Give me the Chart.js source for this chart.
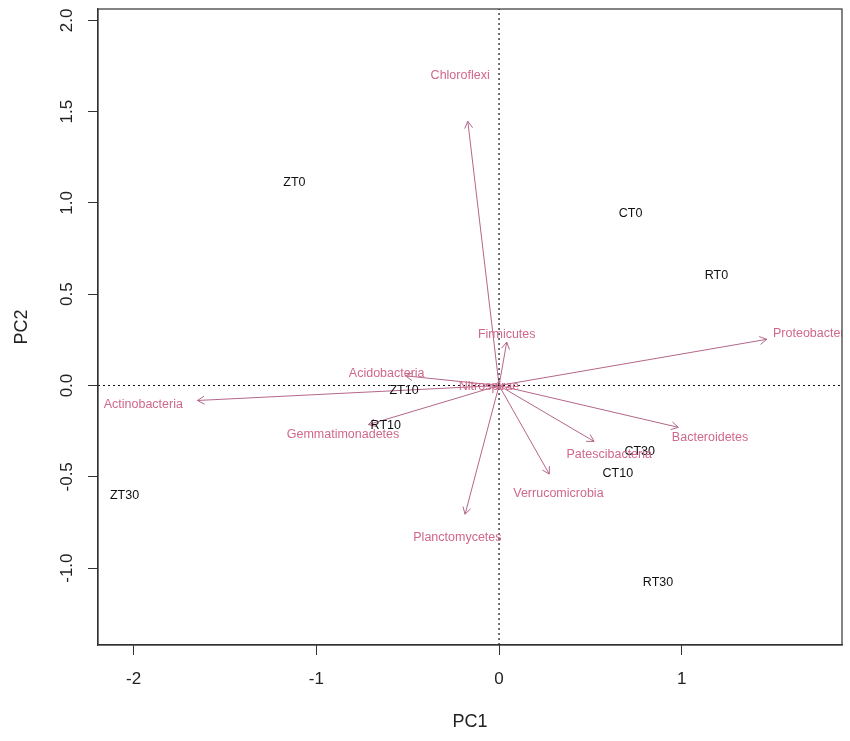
<!DOCTYPE html>
<html>
<head>
<meta charset="utf-8">
<script src="https://cdn.jsdelivr.net/npm/chart.js@4.4.0/dist/chart.umd.min.js"></script>
<style>
  body { margin: 0; background: #fff; }
  #holder { width: 850px; height: 741px; }
</style>
</head>
<body>
<div id="holder"><canvas id="chartHolder"></canvas></div>
<script>
// samples (scores)
const sampleNames = ["ZT0", "CT0", "RT0", "ZT10", "RT10", "CT10", "ZT30", "CT30", "RT30"];
const sampleX = [-1.12, 0.72, 1.19, -0.52, -0.62, 0.65, -2.05, 0.77, 0.87];
const sampleY = [1.11, 0.94, 0.60, -0.03, -0.22, -0.48, -0.60, -0.36, -1.08];

// phyla (loadings): arrow tips and where the names sit
const phylumNames = ["Chloroflexi", "Firmicutes", "Proteobacteria", "Acidobacteria", "Actinobacteria",
    "Gemmatimonadetes", "Nitrospirae", "Bacteroidetes", "Patescibacteria", "Verrucomicrobia", "Planctomycetes"];
const loadX = [-0.171, 0.042, 1.465, -0.512, -1.651, -0.715, -0.03, 0.981, 0.520, 0.275, -0.186];
const loadY = [1.447, 0.238, 0.253, 0.053, -0.082, -0.214, -0.01, -0.229, -0.306, -0.485, -0.705];
const labelX = [-0.213, 0.042, 1.722, -0.615, -1.947, -0.854, -0.055, 1.155, 0.603, 0.325, -0.228];
const labelY = [1.698, 0.280, 0.286, 0.064, -0.106, -0.269, -0.004, -0.284, -0.376, -0.590, -0.830];

const xTicks = [-2, -1, 0, 1];
const yTicks = [-1.0, -0.5, 0.0, 0.5, 1.0, 1.5, 2.0];
const xLimits = [-2.195, 1.877];
const yLimits = [-1.421, 2.062];

const arrowColor = "#B4668A";
const phylumColor = "#D0688A";
const fontName = '"Liberation Sans", Arial, sans-serif';

const chartHolder = document.getElementById("chartHolder");

let datasets = [];

// dotted zero lines
datasets.push({
    data: [{x: xLimits[0], y: 0}, {x: xLimits[1], y: 0}],
    showLine: true, borderColor: "#111", borderWidth: 1.2, borderDash: [2, 3], pointRadius: 0
});
datasets.push({
    data: [{x: 0, y: yLimits[0]}, {x: 0, y: yLimits[1]}],
    showLine: true, borderColor: "#111", borderWidth: 1.2, borderDash: [2, 3], pointRadius: 0
});

// sample positions (labels drawn by plugin)
datasets.push({
    data: sampleX.map((v, i) => ({x: v, y: sampleY[i]})),
    pointRadius: 0
});

// arrow shafts
phylumNames.forEach((name, i) => {
    datasets.push({
        data: [{x: 0, y: 0}, {x: loadX[i], y: loadY[i]}],
        showLine: true, borderColor: arrowColor, borderWidth: 1, pointRadius: 0
    });
});

function noScalePadding(scale)
{
    scale.paddingTop = 0;
    scale.paddingBottom = 0;
    scale.paddingLeft = 0;
    scale.paddingRight = 0;
}

const biplotText = {
    id: "biplotText",
    afterDatasetsDraw(chart)
    {
        const {ctx, chartArea, scales: {x, y}} = chart;
        ctx.save();
        ctx.beginPath();
        ctx.rect(chartArea.left, chartArea.top, chartArea.width, chartArea.height);
        ctx.clip();

        // arrow heads
        const x0 = x.getPixelForValue(0);
        const y0 = y.getPixelForValue(0);
        ctx.strokeStyle = arrowColor;
        ctx.lineWidth = 1;
        phylumNames.forEach((name, i) => {
            const x1 = x.getPixelForValue(loadX[i]);
            const y1 = y.getPixelForValue(loadY[i]);
            const ang = Math.atan2(y1 - y0, x1 - x0);
            const len = 8, spread = Math.PI / 6;
            ctx.beginPath();
            ctx.moveTo(x1 - len * Math.cos(ang - spread), y1 - len * Math.sin(ang - spread));
            ctx.lineTo(x1, y1);
            ctx.lineTo(x1 - len * Math.cos(ang + spread), y1 - len * Math.sin(ang + spread));
            ctx.stroke();
        });

        ctx.textAlign = "center";
        ctx.textBaseline = "middle";
        ctx.font = "12.5px " + fontName;

        ctx.fillStyle = "#111";
        sampleNames.forEach((name, i) => {
            ctx.fillText(name, x.getPixelForValue(sampleX[i]), y.getPixelForValue(sampleY[i]));
        });

        ctx.fillStyle = phylumColor;
        phylumNames.forEach((name, i) => {
            ctx.fillText(name, x.getPixelForValue(labelX[i]), y.getPixelForValue(labelY[i]));
        });
        ctx.restore();

        // box round the plot
        ctx.save();
        ctx.strokeStyle = "#333";
        ctx.lineWidth = 1.2;
        ctx.strokeRect(chartArea.left, chartArea.top, chartArea.width, chartArea.height);
        ctx.restore();
    }
};

new Chart(chartHolder, {
    type: "scatter",
    data: { datasets: datasets },
    plugins: [biplotText],
    options: {
        responsive: true,
        maintainAspectRatio: false,
        animation: false,
        layout: { padding: { left: 0, right: 8, top: 9, bottom: 0 } },
        plugins: {
            legend: { display: false },
            tooltip: { enabled: false }
        },
        scales: {
            x: {
                type: "linear",
                min: xLimits[0],
                max: xLimits[1],
                afterBuildTicks: scale => { scale.ticks = xTicks.map(v => ({value: v})); },
                afterFit: scale => { scale.height = 96; noScalePadding(scale); },
                grid: { drawOnChartArea: false, drawTicks: true, tickLength: 10, color: "#333", lineWidth: 1 },
                border: { color: "#333", width: 1.2 },
                ticks: {
                    autoSkip: false,
                    maxRotation: 0,
                    padding: 14,
                    color: "#222",
                    font: { family: fontName, size: 17 },
                    callback: v => String(v)
                },
                title: {
                    display: true,
                    text: "PC1",
                    color: "#222",
                    font: { family: fontName, size: 18 },
                    padding: { top: 0, bottom: 8 }
                }
            },
            y: {
                type: "linear",
                min: yLimits[0],
                max: yLimits[1],
                afterBuildTicks: scale => { scale.ticks = yTicks.map(v => ({value: v})); },
                afterFit: scale => { scale.width = 98; noScalePadding(scale); },
                grid: { drawOnChartArea: false, drawTicks: true, tickLength: 10, color: "#333", lineWidth: 1 },
                border: { color: "#333", width: 1.2 },
                ticks: {
                    autoSkip: false,
                    minRotation: 90,
                    maxRotation: 90,
                    crossAlign: "center",
                    padding: 6,
                    color: "#222",
                    font: { family: fontName, size: 17 },
                    callback: v => v.toFixed(1)
                },
                title: {
                    display: true,
                    text: "PC2",
                    color: "#222",
                    font: { family: fontName, size: 18 },
                    padding: { top: 11, bottom: 0 }
                }
            }
        }
    }
});
</script>
</body>
</html>
